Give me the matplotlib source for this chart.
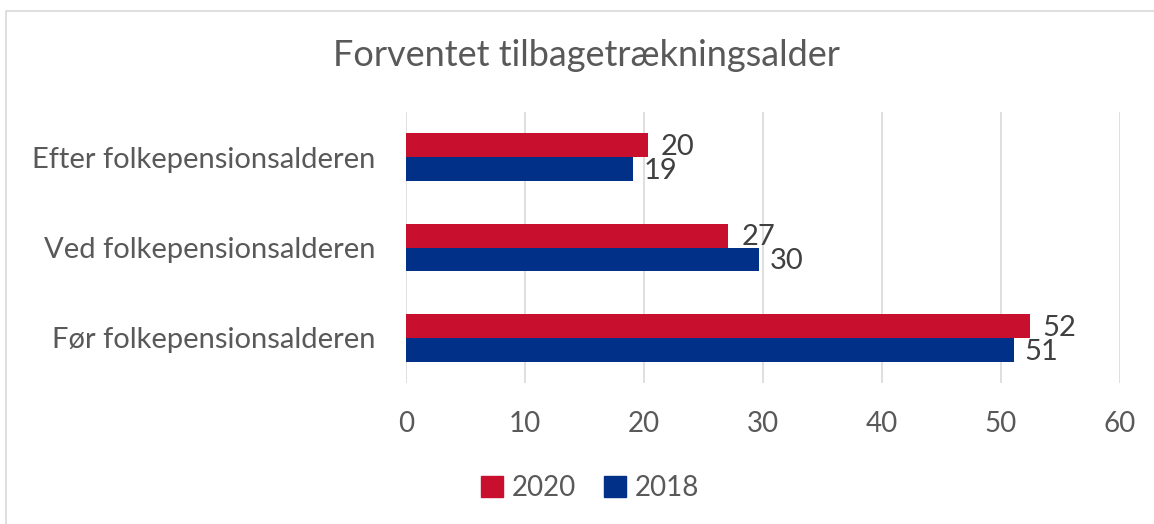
import numpy as np
import matplotlib.pyplot as plt
from matplotlib.patches import Rectangle, Patch

# data
categories = ["Efter folkepensionsalderen", "Ved folkepensionsalderen", "Før folkepensionsalderen"]
vals_2020 = [20.3, 27.1, 52.4]
vals_2018 = [19.1, 29.7, 51.1]
labels_2020 = ["20", "27", "52"]
labels_2018 = ["19", "30", "51"]
xticks = [0, 10, 20, 30, 40, 50, 60]

red = "#C8102E"
blue = "#003087"
grey_txt = "#595959"

plt.rcParams['font.family'] = ['Lato', 'DejaVu Sans']

fig = plt.figure(figsize=(11.54, 5.24), dpi=100)
# chart border
fig.patches.append(Rectangle((6/1154, -0.2), 1.2, 1.2 - 11/524, transform=fig.transFigure,
                             fill=False, edgecolor="#D9D9D9", linewidth=1.2))

ax = fig.add_axes([406/1154, 1 - 383/524, (1120-406)/1154, (383-112)/524])

y = np.arange(len(categories))
h = 0.265
ax.barh(y - h/2, vals_2020, height=h, color=red, label="2020")
ax.barh(y + h/2, vals_2018, height=h, color=blue, label="2018")

for yi, v, t in zip(y, vals_2020, labels_2020):
    ax.text(v + 1.1, yi - h/2 + 0.02, t, va="center", ha="left", fontsize=21, color="#404040")
for yi, v, t in zip(y, vals_2018, labels_2018):
    ax.text(v + 0.9, yi + h/2 + 0.02, t, va="center", ha="left", fontsize=21, color="#404040")

ax.set_xlim(0, 60)
ax.set_ylim(2.5, -0.5)
ax.set_xticks(xticks)
ax.set_yticks(y)
ax.set_yticklabels(categories)
ax.grid(axis="x", color="#D9D9D9", linewidth=1.2)
ax.set_axisbelow(True)
for s in ax.spines.values():
    s.set_visible(False)
ax.tick_params(length=0, labelsize=20, labelcolor=grey_txt)
ax.tick_params(axis="x", pad=20)
ax.tick_params(axis="y", pad=22)
ax.tick_params(axis="y", labelsize=21)

fig.text(586/1154, 1 - 56/524, "Forventet tilbagetrækningsalder", ha="center", va="center",
         fontsize=26, color=grey_txt)

handles = [Patch(color=red, label="2020"), Patch(color=blue, label="2018")]
fig.legend(handles=handles, loc="center", bbox_to_anchor=(590/1154, 1 - 488/524), ncol=2,
           frameon=False, fontsize=20, labelcolor=grey_txt, handlelength=0.8, handleheight=0.8,
           handletextpad=0.3, columnspacing=1.0)

fig.savefig("out.png", dpi=100)
